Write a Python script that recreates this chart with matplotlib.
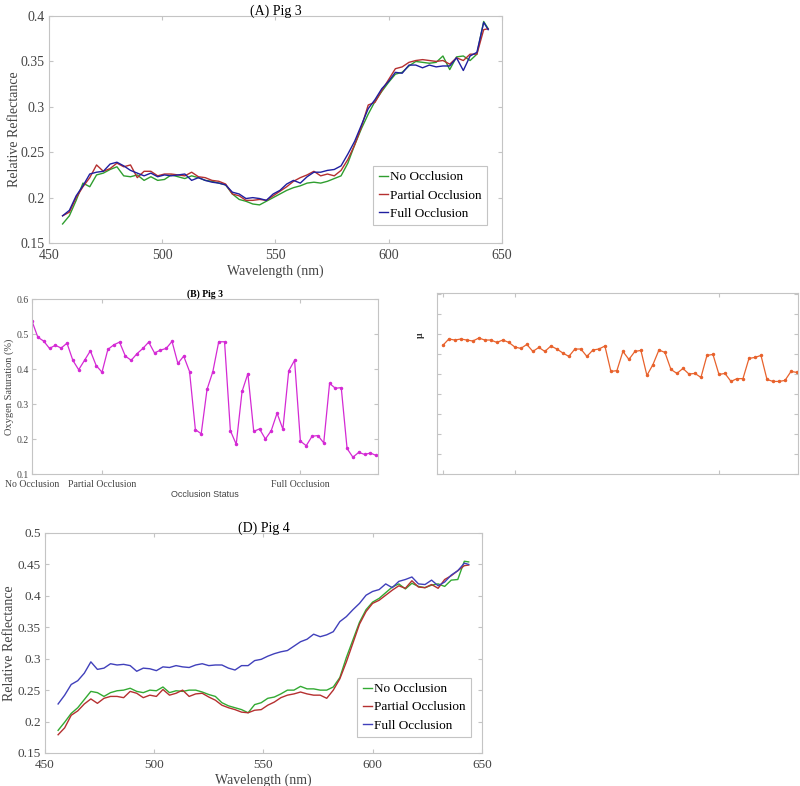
import numpy as np
import matplotlib.pyplot as plt

plt.rcParams['font.family'] = ['Liberation Serif', 'DejaVu Serif']

# wavelength samples (nm)
wl = np.append(np.arange(456, 643, 3), 644)

# (A) Pig 3
a_none = [0.171, 0.180, 0.197, 0.216, 0.212, 0.225, 0.227, 0.231, 0.234, 0.224,
          0.223, 0.225, 0.219, 0.223, 0.219, 0.220, 0.225, 0.223, 0.221, 0.224,
          0.222, 0.219, 0.218, 0.216, 0.214, 0.204, 0.198, 0.196, 0.193, 0.192,
          0.196, 0.200, 0.204, 0.208, 0.211, 0.213, 0.216, 0.217, 0.216, 0.218,
          0.221, 0.224, 0.238, 0.258, 0.276, 0.292, 0.306, 0.317, 0.327, 0.336,
          0.338, 0.345, 0.350, 0.349, 0.348, 0.349, 0.356, 0.341, 0.355, 0.356,
          0.351, 0.358, 0.394, 0.386]
a_part = [0.180, 0.184, 0.200, 0.212, 0.222, 0.236, 0.229, 0.232, 0.238, 0.234,
          0.236, 0.222, 0.229, 0.229, 0.224, 0.226, 0.226, 0.225, 0.224, 0.228,
          0.223, 0.222, 0.219, 0.218, 0.215, 0.204, 0.202, 0.197, 0.197, 0.198,
          0.197, 0.202, 0.207, 0.212, 0.218, 0.222, 0.225, 0.229, 0.224, 0.226,
          0.224, 0.230, 0.242, 0.258, 0.278, 0.302, 0.305, 0.318, 0.330, 0.342,
          0.344, 0.349, 0.351, 0.352, 0.351, 0.350, 0.351, 0.347, 0.354, 0.351,
          0.358, 0.358, 0.385, 0.386]
a_full = [0.180, 0.186, 0.202, 0.213, 0.226, 0.228, 0.229, 0.237, 0.239, 0.235,
          0.230, 0.227, 0.224, 0.227, 0.223, 0.225, 0.224, 0.225, 0.226, 0.219,
          0.222, 0.219, 0.217, 0.216, 0.214, 0.206, 0.204, 0.199, 0.200, 0.199,
          0.197, 0.204, 0.208, 0.215, 0.219, 0.216, 0.223, 0.228, 0.228, 0.230,
          0.231, 0.235, 0.248, 0.262, 0.280, 0.298, 0.308, 0.320, 0.328, 0.338,
          0.337, 0.346, 0.346, 0.343, 0.346, 0.344, 0.345, 0.345, 0.354, 0.340,
          0.356, 0.360, 0.393, 0.385]

# (D) Pig 4
d_none = [0.186, 0.199, 0.213, 0.222, 0.235, 0.248, 0.246, 0.240, 0.246, 0.249,
          0.250, 0.253, 0.248, 0.246, 0.250, 0.249, 0.255, 0.246, 0.249, 0.248,
          0.250, 0.250, 0.247, 0.243, 0.240, 0.230, 0.225, 0.222, 0.219, 0.214,
          0.227, 0.230, 0.237, 0.239, 0.244, 0.250, 0.250, 0.256, 0.252, 0.252,
          0.250, 0.250, 0.255, 0.270, 0.302, 0.330, 0.358, 0.378, 0.390, 0.396,
          0.405, 0.414, 0.419, 0.411, 0.420, 0.415, 0.413, 0.417, 0.419, 0.415,
          0.425, 0.426, 0.455, 0.454]
d_part = [0.179, 0.190, 0.210, 0.217, 0.228, 0.236, 0.229, 0.237, 0.240, 0.240,
          0.238, 0.248, 0.245, 0.238, 0.242, 0.240, 0.251, 0.242, 0.245, 0.250,
          0.240, 0.244, 0.245, 0.239, 0.234, 0.226, 0.222, 0.219, 0.215, 0.214,
          0.218, 0.219, 0.226, 0.231, 0.238, 0.242, 0.244, 0.247, 0.244, 0.242,
          0.242, 0.237, 0.250, 0.268, 0.295, 0.325, 0.355, 0.375, 0.388, 0.393,
          0.401, 0.409, 0.416, 0.412, 0.424, 0.414, 0.413, 0.418, 0.412, 0.426,
          0.432, 0.440, 0.448, 0.449]
d_full = [0.228, 0.242, 0.259, 0.265, 0.277, 0.295, 0.283, 0.285, 0.292, 0.290,
          0.291, 0.289, 0.280, 0.285, 0.284, 0.281, 0.287, 0.286, 0.289, 0.287,
          0.286, 0.290, 0.292, 0.289, 0.290, 0.290, 0.285, 0.282, 0.289, 0.289,
          0.297, 0.299, 0.304, 0.308, 0.311, 0.313, 0.320, 0.327, 0.331, 0.339,
          0.335, 0.338, 0.343, 0.359, 0.367, 0.378, 0.388, 0.401, 0.407, 0.410,
          0.419, 0.413, 0.423, 0.426, 0.430, 0.419, 0.418, 0.425, 0.416, 0.422,
          0.433, 0.440, 0.452, 0.450]

# (B) Pig 3 oxygen saturation, 60 measurements
sat = [0.537, 0.491, 0.480, 0.459, 0.468, 0.460, 0.474, 0.425, 0.398, 0.425,
       0.452, 0.410, 0.391, 0.456, 0.469, 0.477, 0.437, 0.425, 0.444, 0.459,
       0.477, 0.446, 0.454, 0.459, 0.479, 0.416, 0.437, 0.393, 0.227, 0.215,
       0.342, 0.393, 0.478, 0.478, 0.224, 0.185, 0.336, 0.387, 0.222, 0.229,
       0.200, 0.224, 0.274, 0.228, 0.395, 0.425, 0.194, 0.181, 0.208, 0.210,
       0.189, 0.359, 0.345, 0.347, 0.173, 0.148, 0.162, 0.156, 0.160, 0.153]

# right-hand panel (mu), same 60 measurements, tick units
mu = [6.43, 6.75, 6.70, 6.75, 6.70, 6.65, 6.80, 6.70, 6.70, 6.58,
      6.70, 6.58, 6.35, 6.28, 6.48, 6.13, 6.33, 6.13, 6.40, 6.25,
      6.05, 5.88, 6.25, 6.25, 5.88, 6.20, 6.25, 6.40, 5.13, 5.17,
      6.13, 5.73, 6.13, 6.18, 4.93, 5.47, 6.20, 6.08, 5.23, 5.03,
      5.28, 5.00, 5.03, 4.83, 5.93, 5.98, 4.98, 5.03, 4.63, 4.77,
      4.77, 5.78, 5.83, 5.93, 4.73, 4.63, 4.63, 4.68, 5.13, 5.08]

status_ticks = [1, 13, 47]
status_labels = ['No Occlusion', 'Partial Occlusion', 'Full Occlusion']
legend_labels = ['No Occlusion', 'Partial Occlusion', 'Full Occlusion']

green = '#2f9e2f'
red = '#b53030'
spine = '#c4c4c4'
txt = '#444444'


def matlab_style(ax, labelsize, xpad=4, ypad=3):
    for s in ax.spines.values():
        s.set_color(spine)
        s.set_linewidth(0.8)
    ax.tick_params(direction='in', top=True, right=True, length=3,
                   color=spine, labelcolor=txt, labelsize=labelsize)
    ax.tick_params(axis='x', pad=xpad)
    ax.tick_params(axis='y', pad=ypad)


def add_legend(ax, anchor, size):
    leg = ax.legend(loc='lower right', bbox_to_anchor=anchor, fontsize=size,
                    handlelength=0.7, handletextpad=0.15, borderpad=0.4,
                    labelspacing=0.45, borderaxespad=0, fancybox=False,
                    framealpha=1)
    leg.get_frame().set_edgecolor(spine)
    leg.get_frame().set_linewidth(0.8)


fig = plt.figure(figsize=(8, 7.86), dpi=100)

# (A)
ax1 = fig.add_axes([0.06125, 0.6908, 0.566, 0.2888])
ax1.plot(wl, a_none, color=green, lw=1.0, label=legend_labels[0])
ax1.plot(wl, a_part, color=red, lw=1.0, label=legend_labels[1])
ax1.plot(wl, a_full, color='#1f1fa0', lw=1.0, label=legend_labels[2])
ax1.set_xlim(450, 650)
ax1.set_ylim(0.15, 0.4)
ax1.set_xticks([450, 500, 550, 600, 650])
ax1.set_yticks([0.15, 0.2, 0.25, 0.3, 0.35, 0.4])
ax1.set_yticklabels(['0.15', '0.2', '0.25', '0.3', '0.35', '0.4'])
matlab_style(ax1, 10)
ax1.set_title('(A) Pig 3', fontsize=10, pad=1)
ax1.set_xlabel('Wavelength (nm)', fontsize=10, color=txt, labelpad=2)
ax1.set_ylabel('Relative Reflectance', fontsize=10, color=txt, labelpad=0)
add_legend(ax1, (0.967, 0.079), 9.5)

# (B)
idx = np.arange(1, len(sat) + 1)
ax2 = fig.add_axes([0.04, 0.3969, 0.4325, 0.2226])
ax2.plot(idx, sat, color='#d42ad4', lw=0.9, marker='.', ms=3)
ax2.set_xlim(1, 60.3)
ax2.set_ylim(0.1, 0.6)
ax2.set_xticks(status_ticks)
ax2.set_xticklabels(status_labels)
ax2.set_yticks([0.1, 0.2, 0.3, 0.4, 0.5, 0.6])
matlab_style(ax2, 7, xpad=4, ypad=2)
ax2.set_title('(B) Pig 3', fontsize=7, fontweight='bold', pad=2)
ax2.set_ylabel('Oxygen Saturation (%)', fontsize=7.5, color=txt, labelpad=2)
ax2.set_xlabel('Occlusion Status', fontsize=6.5, color=txt, labelpad=1,
               family=['Liberation Sans', 'DejaVu Sans'])

# right-hand panel
ax3 = fig.add_axes([0.546, 0.3969, 0.451, 0.2303])
ax3.plot(idx, mu, color='#e8622c', lw=0.9, marker='.', ms=3)
ax3.set_xlim(0, 60.1)
ax3.set_ylim(0, 9.05)
ax3.set_xticks(status_ticks)
ax3.set_yticks(range(0, 10))
matlab_style(ax3, 7)
ax3.set_xticklabels([])
ax3.set_yticklabels([])
fig.text(420 / 800, 1 - 335 / 786, 'μ', fontsize=7, rotation=90,
         ha='center', va='center', fontweight='bold', color='#333333')

# (D)
ax4 = fig.add_axes([0.05625, 0.042, 0.546, 0.2799])
ax4.plot(wl, d_none, color='#33aa33', lw=1.0, label=legend_labels[0])
ax4.plot(wl, d_part, color=red, lw=1.0, label=legend_labels[1])
ax4.plot(wl, d_full, color='#4040bb', lw=1.0, label=legend_labels[2])
ax4.set_xlim(450, 650)
ax4.set_ylim(0.15, 0.5)
ax4.set_xticks([450, 500, 550, 600, 650])
ax4.set_yticks([0.15, 0.2, 0.25, 0.3, 0.35, 0.4, 0.45, 0.5])
ax4.set_yticklabels(['0.15', '0.2', '0.25', '0.3', '0.35', '0.4', '0.45', '0.5'])
matlab_style(ax4, 9.5)
ax4.set_title('(D) Pig 4', fontsize=10, pad=1)
ax4.set_xlabel('Wavelength (nm)', fontsize=10, color=txt, labelpad=2)
ax4.set_ylabel('Relative Reflectance', fontsize=10, color=txt, labelpad=1)
add_legend(ax4, (0.975, 0.073), 9.5)

fig.savefig('out.png', dpi=100)
